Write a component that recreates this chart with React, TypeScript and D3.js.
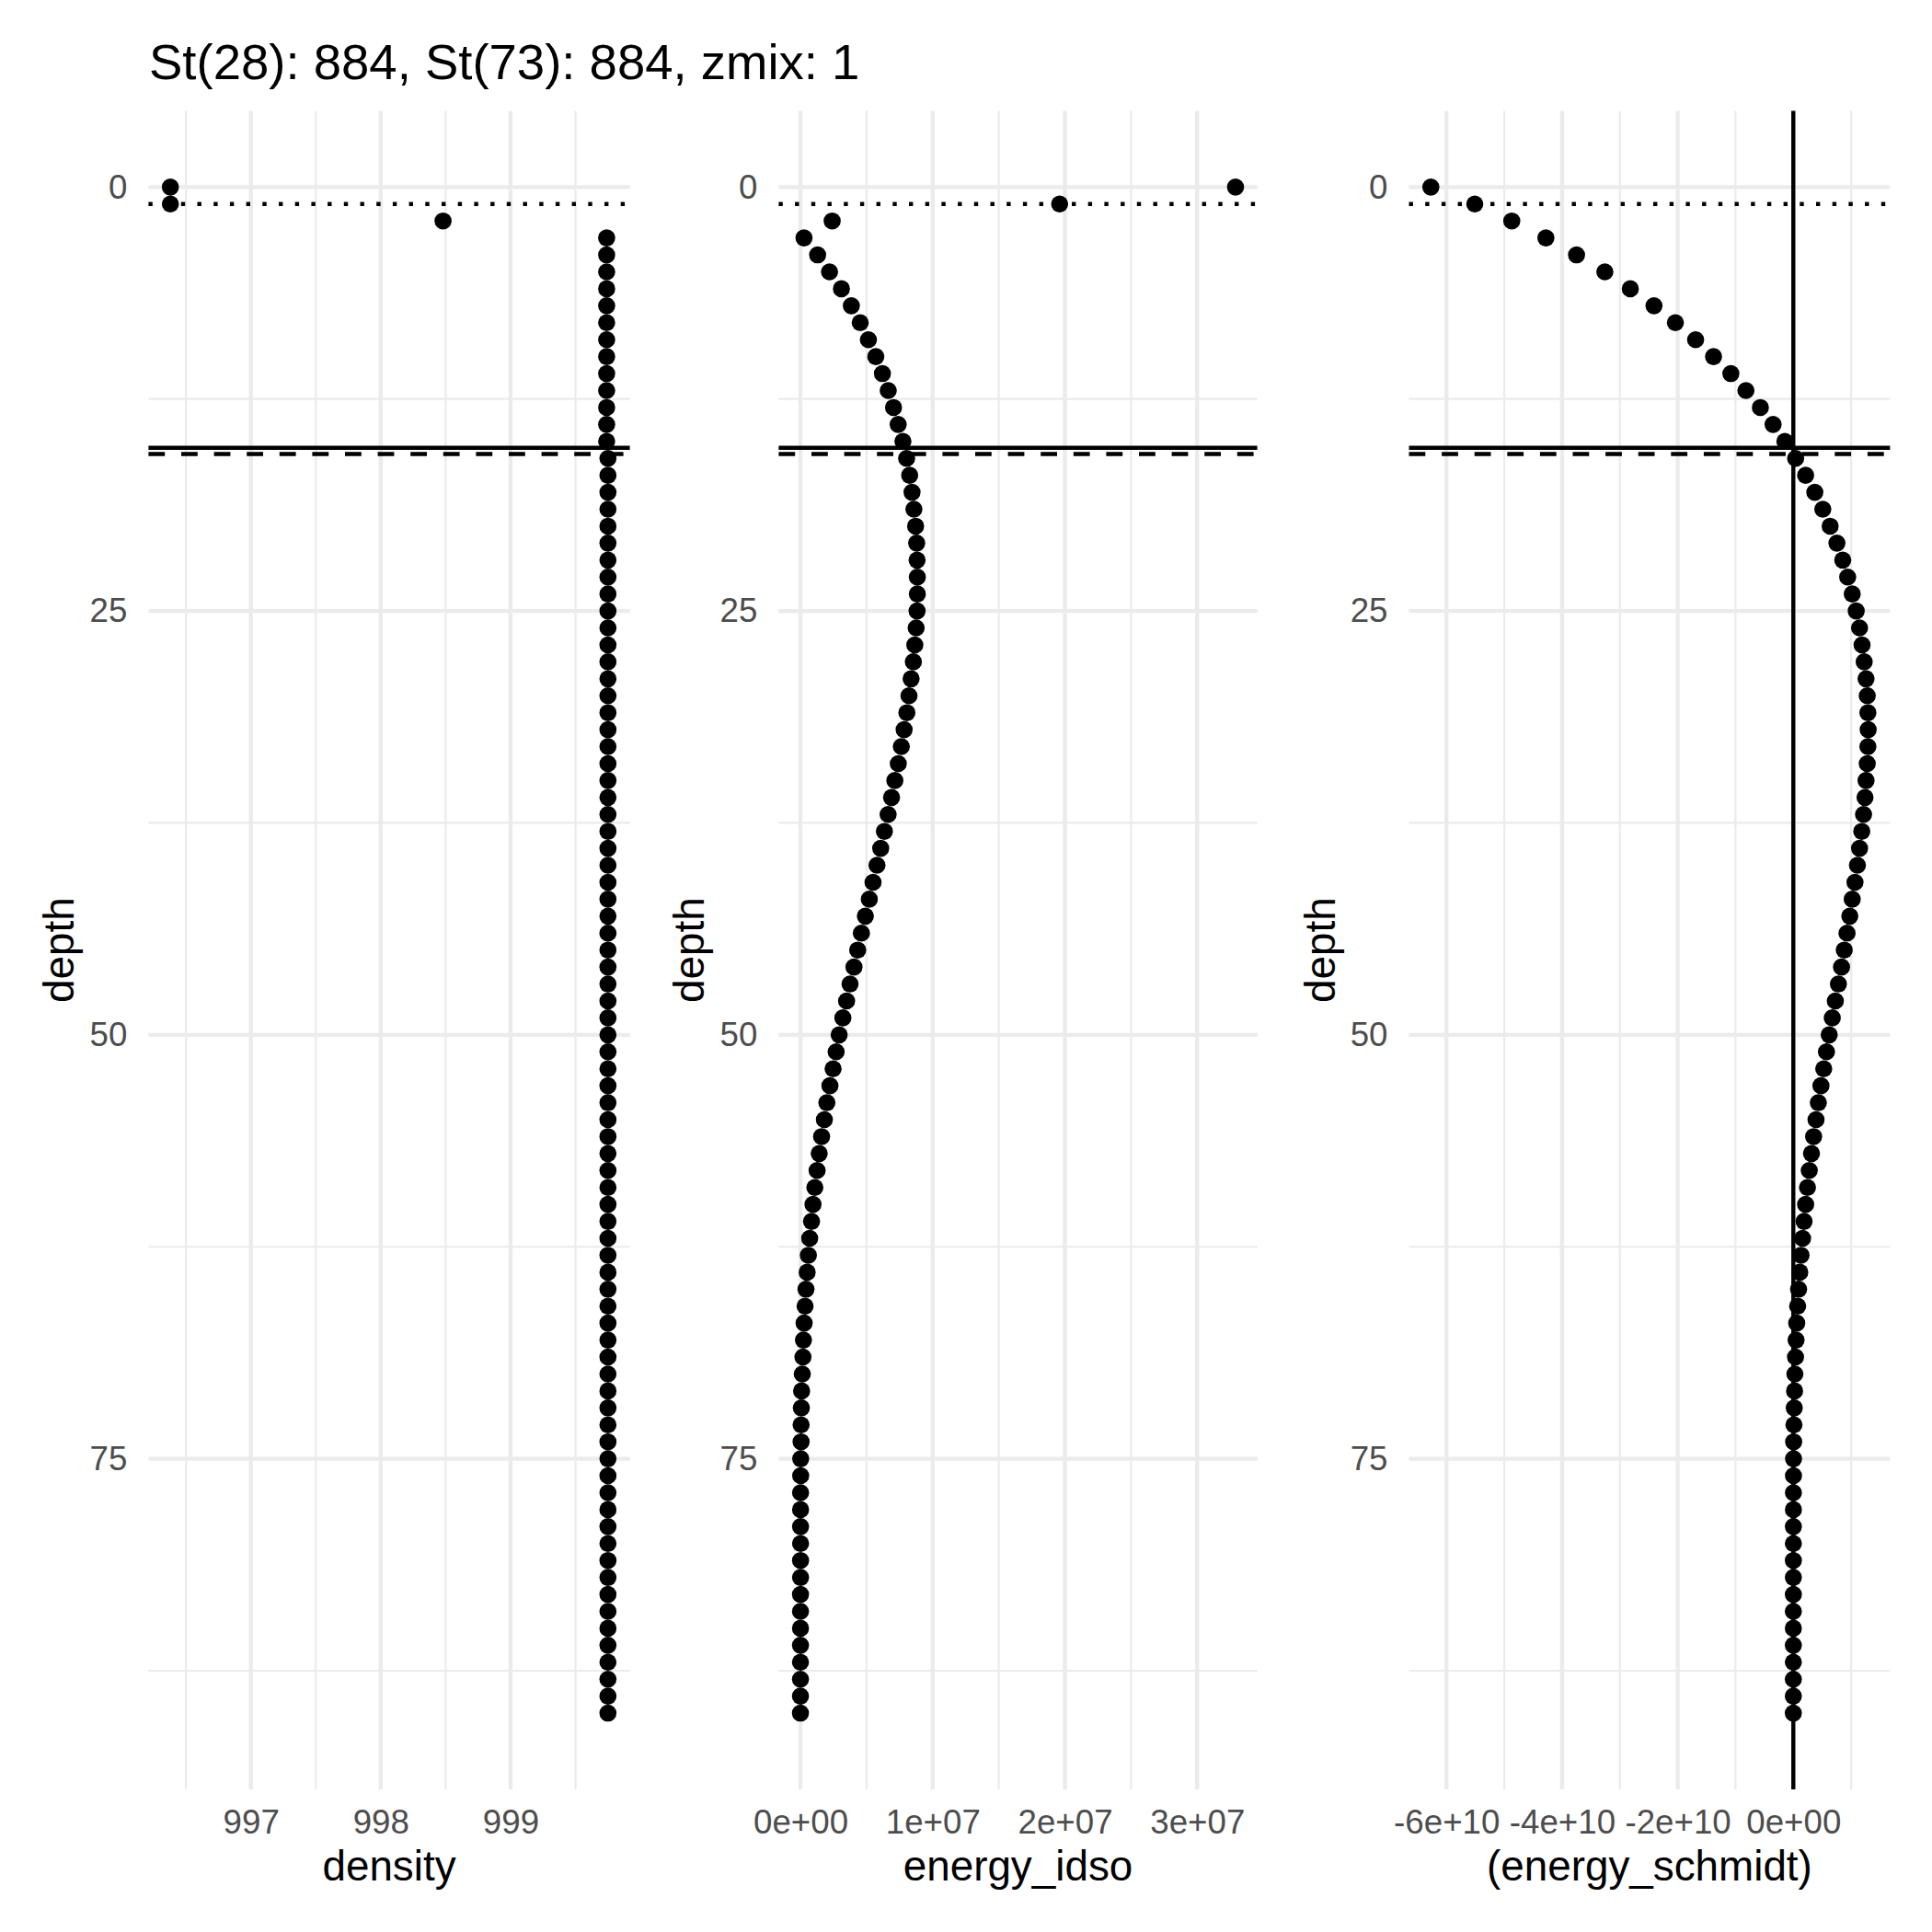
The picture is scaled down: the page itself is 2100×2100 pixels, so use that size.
import { useEffect, useRef } from "react";
import * as d3 from "d3";

// depth profile, one sample per metre
const depth = [
  0, 1, 2, 3, 4, 5, 6, 7, 8, 9, 10, 11, 12, 13, 14, 15, 16, 17, 18, 19, 20,
  21, 22, 23, 24, 25, 26, 27, 28, 29, 30, 31, 32, 33, 34, 35, 36, 37, 38, 39,
  40, 41, 42, 43, 44, 45, 46, 47, 48, 49, 50, 51, 52, 53, 54, 55, 56, 57, 58,
  59, 60, 61, 62, 63, 64, 65, 66, 67, 68, 69, 70, 71, 72, 73, 74, 75, 76, 77,
  78, 79, 80, 81, 82, 83, 84, 85, 86, 87, 88, 89, 90,
];

const density = [
  996.38, 996.38, 998.48, 999.74, 999.74, 999.74, 999.74, 999.74, 999.74,
  999.74, 999.74, 999.74, 999.74, 999.74, 999.74, 999.74, 999.75, 999.75,
  999.75, 999.75, 999.75, 999.75, 999.75, 999.75, 999.75, 999.75, 999.75,
  999.75, 999.75, 999.75, 999.75, 999.75, 999.75, 999.75, 999.75, 999.75,
  999.75, 999.75, 999.75, 999.75, 999.75, 999.75, 999.75, 999.75, 999.75,
  999.75, 999.75, 999.75, 999.75, 999.75, 999.75, 999.75, 999.75, 999.75,
  999.75, 999.75, 999.75, 999.75, 999.75, 999.75, 999.75, 999.75, 999.75,
  999.75, 999.75, 999.75, 999.75, 999.75, 999.75, 999.75, 999.75, 999.75,
  999.75, 999.75, 999.75, 999.75, 999.75, 999.75, 999.75, 999.75, 999.75,
  999.75, 999.75, 999.75, 999.75, 999.75, 999.75, 999.75, 999.75, 999.75,
  999.75,
];

// energy_idso in units of 1e7
const IDSO_UNIT = 1e7;
const energyIdso = [
  3.29, 1.96, 0.24, 0.027, 0.13, 0.22, 0.31, 0.385, 0.452, 0.514,
  0.57, 0.62, 0.664, 0.704, 0.739, 0.775, 0.803, 0.826, 0.844, 0.858,
  0.871, 0.879, 0.882, 0.884, 0.884, 0.882, 0.875, 0.865, 0.854, 0.837,
  0.821, 0.805, 0.784, 0.763, 0.74, 0.714, 0.689, 0.663, 0.635, 0.607,
  0.579, 0.549, 0.521, 0.491, 0.461, 0.433, 0.405, 0.375, 0.349, 0.321,
  0.293, 0.27, 0.247, 0.223, 0.2, 0.181, 0.16, 0.142, 0.126, 0.109,
  0.095, 0.084, 0.07, 0.06, 0.051, 0.042, 0.035, 0.028, 0.023, 0.019,
  0.014, 0.009, 0.007, 0.005, 0.005, 0.002, 0.002, 0.001, 0.001, 0.001,
  0.001, 0.001, 0.001, 0.0005, 0.0005, 0.0005, 0.0005, 0.0003, 0.0003, 0.0002,
  0.0001,
];

// energy_schmidt in units of 1e10
const SCHMIDT_UNIT = 1e10;
const energySchmidt = [
  -6.27, -5.51, -4.87, -4.28, -3.75, -3.26, -2.82, -2.41, -2.04, -1.69,
  -1.38, -1.08, -0.82, -0.57, -0.35, -0.146, 0.04, 0.213, 0.372, 0.51,
  0.637, 0.754, 0.855, 0.94, 1.019, 1.088, 1.146, 1.189, 1.226, 1.258,
  1.279, 1.29, 1.295, 1.29, 1.279, 1.258, 1.24, 1.215, 1.184, 1.146,
  1.109, 1.067, 1.019, 0.977, 0.929, 0.881, 0.834, 0.78, 0.727, 0.674,
  0.621, 0.573, 0.526, 0.478, 0.433, 0.393, 0.351, 0.314, 0.276, 0.245,
  0.213, 0.186, 0.16, 0.133, 0.112, 0.091, 0.075, 0.059, 0.048, 0.038,
  0.027, 0.022, 0.016, 0.011, 0.006, 0.004, 0.003, 0.002, 0.002, 0.001,
  0.001, 0.001, 0.001, 0.001, 0.0005, 0.0005, 0.0005, 0.0005, 0.0003, 0.0002,
  0.0001,
];

// reference depths
const zmix = 1;
const thermoSolid = 15.38;
const thermoDashed = 15.74;

const depthTicks = [0, 25, 50, 75];
const densityTicks = [997, 998, 999];
const idsoTicks = [0, 1e7, 2e7, 3e7];
const schmidtTicks = [-6e10, -4e10, -2e10, 0];

const titleText = "St(28): 884, St(73): 884, zmix: 1";

const FONT = "'Liberation Sans', Arial, Helvetica, sans-serif";
const GRID = "#EBEBEB";

const sci = (v: number) => {
  const [m, e] = v.toExponential(0).split("e");
  const sign = e[0];
  const digits = e.slice(1).padStart(2, "0");
  return `${m}e${sign}${digits}`;
};

// ggplot-like 5% expansion
const expand = (vals: number[]) => {
  const [lo, hi] = d3.extent(vals) as [number, number];
  const pad = (hi - lo) * 0.05;
  return [lo - pad, hi + pad];
};

const minorsOf = (ticks: number[], domain: number[]) => {
  const step = ticks[1] - ticks[0];
  const out: number[] = [];
  for (let t = ticks[0] - step / 2; t <= ticks[ticks.length - 1] + step; t += step) {
    if (t >= Math.min(domain[0], domain[1]) && t <= Math.max(domain[0], domain[1])) out.push(t);
  }
  return out;
};

export default function App() {
  const svgRef = useRef<SVGSVGElement>(null);

  useEffect(() => {
    if (!svgRef.current) return;
    const svg = d3.select(svgRef.current);
    svg.selectAll("*").remove();

    const top = 120.4;
    const bottom = 1945;

    const y = d3
      .scaleLinear()
      .domain([-4.5, 94.5])
      .range([top, bottom]);

    const panels = [
      {
        values: density,
        ticks: densityTicks,
        fmt: (v: number) => d3.format("d")(v),
        label: "density",
        left: 161.4,
        right: 684.6,
        vline: null as number | null,
      },
      {
        values: energyIdso.map((v) => v * IDSO_UNIT),
        ticks: idsoTicks,
        fmt: sci,
        label: "energy_idso",
        left: 846.4,
        right: 1366.6,
        vline: null as number | null,
      },
      {
        values: energySchmidt.map((v) => v * SCHMIDT_UNIT),
        ticks: schmidtTicks,
        fmt: sci,
        label: "(energy_schmidt)",
        left: 1531.5,
        right: 2054.4,
        vline: 0 as number | null,
      },
    ];

    const yMinor = minorsOf(depthTicks, y.domain());

    panels.forEach((p) => {
      const x = d3.scaleLinear().domain(expand(p.values)).range([p.left, p.right]);
      const g = svg.append("g");
      const xMinor = minorsOf(p.ticks, x.domain());

      // grid
      const grid = g.append("g");
      grid
        .selectAll("line.ymin")
        .data(yMinor)
        .join("line")
        .attr("x1", p.left)
        .attr("x2", p.right)
        .attr("y1", (d) => y(d))
        .attr("y2", (d) => y(d))
        .attr("stroke", GRID)
        .attr("stroke-width", 2.2);
      grid
        .selectAll("line.xmin")
        .data(xMinor)
        .join("line")
        .attr("x1", (d) => x(d))
        .attr("x2", (d) => x(d))
        .attr("y1", top)
        .attr("y2", bottom)
        .attr("stroke", GRID)
        .attr("stroke-width", 2.2);
      grid
        .selectAll("line.ymaj")
        .data(depthTicks)
        .join("line")
        .attr("x1", p.left)
        .attr("x2", p.right)
        .attr("y1", (d) => y(d))
        .attr("y2", (d) => y(d))
        .attr("stroke", GRID)
        .attr("stroke-width", 4.4);
      grid
        .selectAll("line.xmaj")
        .data(p.ticks)
        .join("line")
        .attr("x1", (d) => x(d))
        .attr("x2", (d) => x(d))
        .attr("y1", top)
        .attr("y2", bottom)
        .attr("stroke", GRID)
        .attr("stroke-width", 4.4);

      // points
      g.append("g")
        .selectAll("circle")
        .data(depth)
        .join("circle")
        .attr("cx", (_, i) => x(p.values[i]))
        .attr("cy", (d) => y(d))
        .attr("r", 9.3)
        .attr("fill", "#000");

      // reference lines
      const hl = (d: number, dash: string | null) => {
        const l = g
          .append("line")
          .attr("x1", p.left)
          .attr("x2", p.right)
          .attr("y1", y(d))
          .attr("y2", y(d))
          .attr("stroke", "#000")
          .attr("stroke-width", 4.4);
        if (dash) l.attr("stroke-dasharray", dash);
      };
      hl(zmix, "4.4 13.3");
      hl(thermoSolid, null);
      hl(thermoDashed, "17.8 17.8");

      if (p.vline !== null) {
        g.append("line")
          .attr("x1", x(p.vline))
          .attr("x2", x(p.vline))
          .attr("y1", top)
          .attr("y2", bottom)
          .attr("stroke", "#000")
          .attr("stroke-width", 4.4);
      }

      // axes (labels only)
      const xAxis = g
        .append("g")
        .attr("transform", `translate(0,${bottom})`)
        .call(
          d3
            .axisBottom(x)
            .tickValues(p.ticks)
            .tickSize(0)
            .tickPadding(21.6)
            .tickFormat((d) => p.fmt(d as number))
        );
      xAxis.select(".domain").remove();
      xAxis
        .selectAll("text")
        .attr("fill", "#4D4D4D")
        .style("font-family", FONT)
        .style("font-size", "36.7px");

      const yAxis = g
        .append("g")
        .attr("transform", `translate(${p.left},0)`)
        .call(
          d3
            .axisLeft(y)
            .tickValues(depthTicks)
            .tickSize(0)
            .tickPadding(23)
            .tickFormat((d) => d3.format("d")(d as number))
        );
      yAxis.select(".domain").remove();
      yAxis
        .selectAll("text")
        .attr("fill", "#4D4D4D")
        .style("font-family", FONT)
        .style("font-size", "36.7px");

      // axis titles
      g.append("text")
        .attr("x", (p.left + p.right) / 2)
        .attr("y", bottom + 99)
        .attr("text-anchor", "middle")
        .style("font-family", FONT)
        .style("font-size", "45.8px")
        .attr("fill", "#000")
        .text(p.label);

      g.append("text")
        .attr("transform", `translate(${p.left - 81},${(top + bottom) / 2}) rotate(-90)`)
        .attr("text-anchor", "middle")
        .style("font-family", FONT)
        .style("font-size", "45.8px")
        .attr("fill", "#000")
        .text("depth");
    });

    svg
      .append("text")
      .attr("x", 162)
      .attr("y", 86)
      .style("font-family", FONT)
      .style("font-size", "54.5px")
      .attr("fill", "#000")
      .text(titleText);
  }, []);

  return (
    <svg
      ref={svgRef}
      width={2100}
      height={2100}
      style={{ position: "absolute", left: 0, top: 0, background: "#fff" }}
    />
  );
}
